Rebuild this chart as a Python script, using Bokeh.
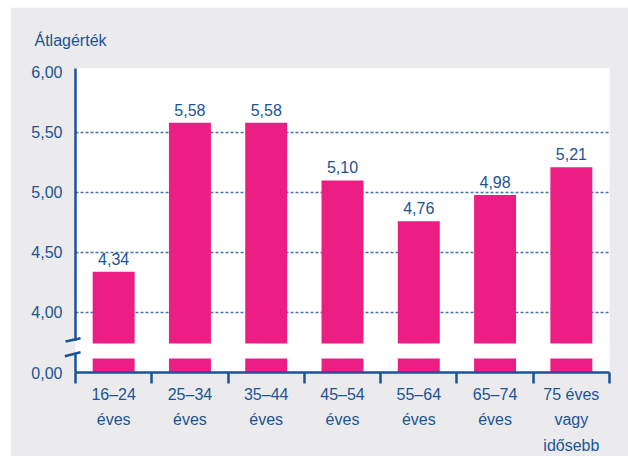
from bokeh.plotting import figure
from bokeh.models import (Range1d, LinearAxis, FixedTicker, ColumnDataSource)
from bokeh.embed import file_html
from bokeh.resources import INLINE
from bokeh.core.properties import value

# ---------------- data ----------------
categories = ["16–24\néves", "25–34\néves", "35–44\néves", "45–54\néves",
              "55–64\néves", "65–74\néves", "75 éves\nvagy\nidősebb"]
values = [4.34, 5.58, 5.58, 5.10, 4.76, 4.98, 5.21]
y_ticks = [0.0, 4.0, 4.5, 5.0, 5.5, 6.0]
y_tick_labels = ["0,00", "4,00", "4,50", "5,00", "5,50", "6,00"]
title_text = "Átlagérték"

# ---------------- style ----------------
FONT = "Liberation Sans"
FS = "16px"
BLUE = "#1b5394"
GRID = "#4a73aa"
PINK = "#ed1e83"
BG = "#ebebed"

BREAK_SHIFT = 3.5          # values >= 4 are drawn shifted down (broken axis)
UPPER_BOTTOM = 0.242       # bottom of upper bar part (axis units)
LOWER_TOP = 0.117          # top of lower bar part (axis units)
Y_TOP = 2.533              # top of plotting area (axis units)


def to_axis(v):
    return 0.0 if v == 0 else v - BREAK_SHIFT


def fmt(v):
    return f"{v:.2f}".replace(".", ",")


n = len(categories)
xs = [i + 0.5 for i in range(n)]   # category centres
bounds = list(range(n + 1))        # category boundaries

src = ColumnDataSource(dict(
    x=xs,
    top=[to_axis(v) for v in values],
    label=[fmt(v) for v in values],
))
cat_src = ColumnDataSource(dict(x=xs, y=[0.0] * n, text=categories))

p = figure(x_range=Range1d(0, n),
           y_range=Range1d(0, Y_TOP),
           frame_width=534, frame_height=304,
           min_border_left=65, min_border_right=19,
           min_border_top=61, min_border_bottom=84,
           x_axis_location=None,
           output_backend="svg", toolbar_location=None,
           background_fill_color="white", border_fill_color=BG,
           outline_line_color=None)
p.margin = (7, 0, 0, 10)

# grid
p.xgrid.visible = False
p.ygrid.ticker = FixedTicker(ticks=[to_axis(v) for v in y_ticks[1:-1]])
p.ygrid.grid_line_color = GRID
p.ygrid.grid_line_width = 1.4
p.ygrid.grid_line_dash = "3 2"

# bars (upper part and lower part, broken axis)
p.vbar(x="x", top="top", bottom=UPPER_BOTTOM, width=0.55, source=src,
       fill_color=PINK, line_color=None)
p.vbar(x="x", top=LOWER_TOP, bottom=0, width=0.55, source=src,
       fill_color=PINK, line_color=None)

# value labels
p.text(x="x", y="top", text="label", source=src, text_align="center",
       text_baseline="alphabetic", y_offset=-13, text_font=value(FONT),
       text_font_size=FS, text_color=BLUE)

# y axis
ya = p.yaxis[0]
ya.ticker = FixedTicker(ticks=[to_axis(v) for v in y_ticks])
ya.major_label_overrides = {to_axis(v): lab for v, lab in zip(y_ticks, y_tick_labels)}
ya.axis_line_color = None
ya.major_tick_line_color = None
ya.minor_tick_line_color = None
ya.major_tick_in = 0
ya.major_tick_out = 0
ya.major_label_standoff = 13
ya.major_label_text_font = FONT
ya.major_label_text_font_size = FS
ya.major_label_text_color = BLUE

# bottom axis: line + tick marks at category boundaries
xa = LinearAxis(ticker=FixedTicker(ticks=[], minor_ticks=bounds),
                axis_line_color=BLUE, axis_line_width=2.5,
                major_tick_line_color=None, major_tick_in=0, major_tick_out=0,
                minor_tick_line_color=BLUE, minor_tick_line_width=2.5,
                minor_tick_in=0, minor_tick_out=11)
p.add_layout(xa, "below")

# category labels under the axis
p.text(x="x", y="y", text="text", source=cat_src, text_align="center",
       text_baseline="top", y_offset=13, text_font=value(FONT),
       text_font_size=FS, text_color=BLUE, text_line_height=1.5,
       level="overlay")

# manual y axis line with break marks
p.segment(x0=[0, 0], y0=[0, 0.265], x1=[0, 0], y1=[0.158, Y_TOP],
          line_color=BLUE, line_width=2.5, level="overlay")
p.segment(x0=[-0.131, -0.14], y0=[0.258, 0.136], x1=[0.066, 0.066], y1=[0.286, 0.169],
          line_color=BLUE, line_width=2.5, level="overlay")

# axis title (unit label) above the y axis
p.text(x=[0], y=[Y_TOP], text=[title_text], text_align="left",
       text_baseline="alphabetic", x_offset=-41, y_offset=-28,
       text_font=value(FONT), text_font_size=FS, text_color=BLUE,
       level="overlay")

open("out.html", "w").write(file_html(p, INLINE))
